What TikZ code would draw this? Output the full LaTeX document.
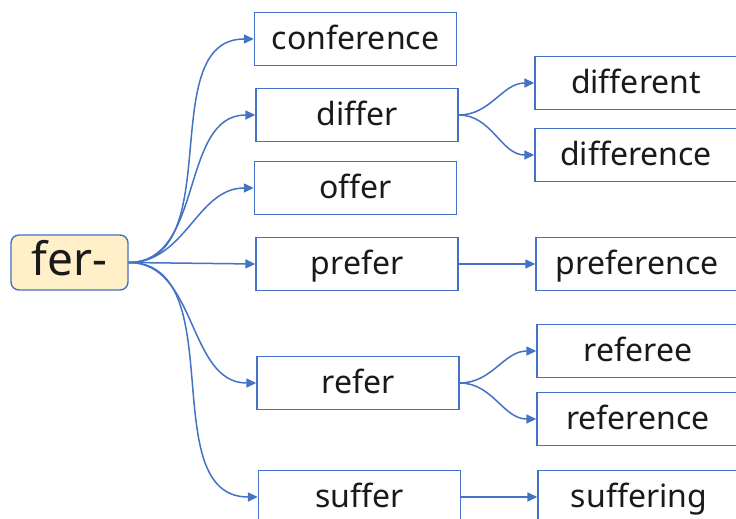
\documentclass[tikz,border=0pt]{standalone}
\usepackage{fontspec}
\setmainfont{Noto Sans}
\usetikzlibrary{arrows.meta}
\definecolor{lineblue}{HTML}{4472C4}
\definecolor{rootfill}{HTML}{FFF0C9}
\definecolor{txt}{HTML}{1A1A1A}
\begin{document}
\begin{tikzpicture}[x=1pt,y=-1pt,
  wordbox/.style={draw=lineblue, line width=1.4pt, minimum width=202pt, minimum height=53pt,
    inner sep=0pt, text height=22pt, text depth=2pt,
    font=\fontsize{32}{38}\selectfont, text=txt},
  rootbox/.style={draw=lineblue, line width=1.4pt, rounded corners=8pt, fill=rootfill,
    minimum width=117pt, minimum height=55pt, inner sep=0pt, text height=30pt, text depth=5pt,
    font=\fontsize{46}{52}\selectfont, text=txt},
  link/.style={draw=lineblue, line width=1.5pt, -{Triangle[length=10pt,width=9pt]}}
]
\useasboundingbox (0,0) rectangle (736,519);
\clip (0,0) rectangle (736,519);
\fill[white] (0,0) rectangle (736,519);

\node[rootbox] (root) at (69.5,262.5) {fer-};

\node[wordbox] (conf) at (355.5,39) {conference};
\node[wordbox] (differ) at (357,115) {differ};
\node[wordbox] (offer) at (355.5,188) {offer};
\node[wordbox] (prefer) at (357,264) {prefer};
\node[wordbox] (refer) at (358,383) {refer};
\node[wordbox] (suffer) at (359.5,497) {suffer};

\node[wordbox] (different) at (636,83) {different};
\node[wordbox] (difference) at (636,155) {difference};
\node[wordbox] (preference) at (637,264) {preference};
\node[wordbox] (referee) at (638,351) {referee};
\node[wordbox] (reference) at (638,419) {reference};
\node[wordbox] (suffering) at (639,497) {suffering};

\coordinate (src) at (root.east);
\draw[link] (src) to[out=0,in=180] (conf.west);
\draw[link] (src) to[out=0,in=180] (differ.west);
\draw[link] (src) to[out=0,in=180] (offer.west);
\draw[link] (src) -- (prefer.west);
\draw[link] (src) to[out=0,in=180] (refer.west);
\draw[link] (src) to[out=0,in=180] (suffer.west);

\draw[link] (differ.east) to[out=0,in=180] (different.west);
\draw[link] (differ.east) to[out=0,in=180] (difference.west);
\draw[link] (prefer.east) -- (preference.west);
\draw[link] (refer.east) to[out=0,in=180] (referee.west);
\draw[link] (refer.east) to[out=0,in=180] (reference.west);
\draw[link] (suffer.east) -- (suffering.west);
\end{tikzpicture}
\end{document}
